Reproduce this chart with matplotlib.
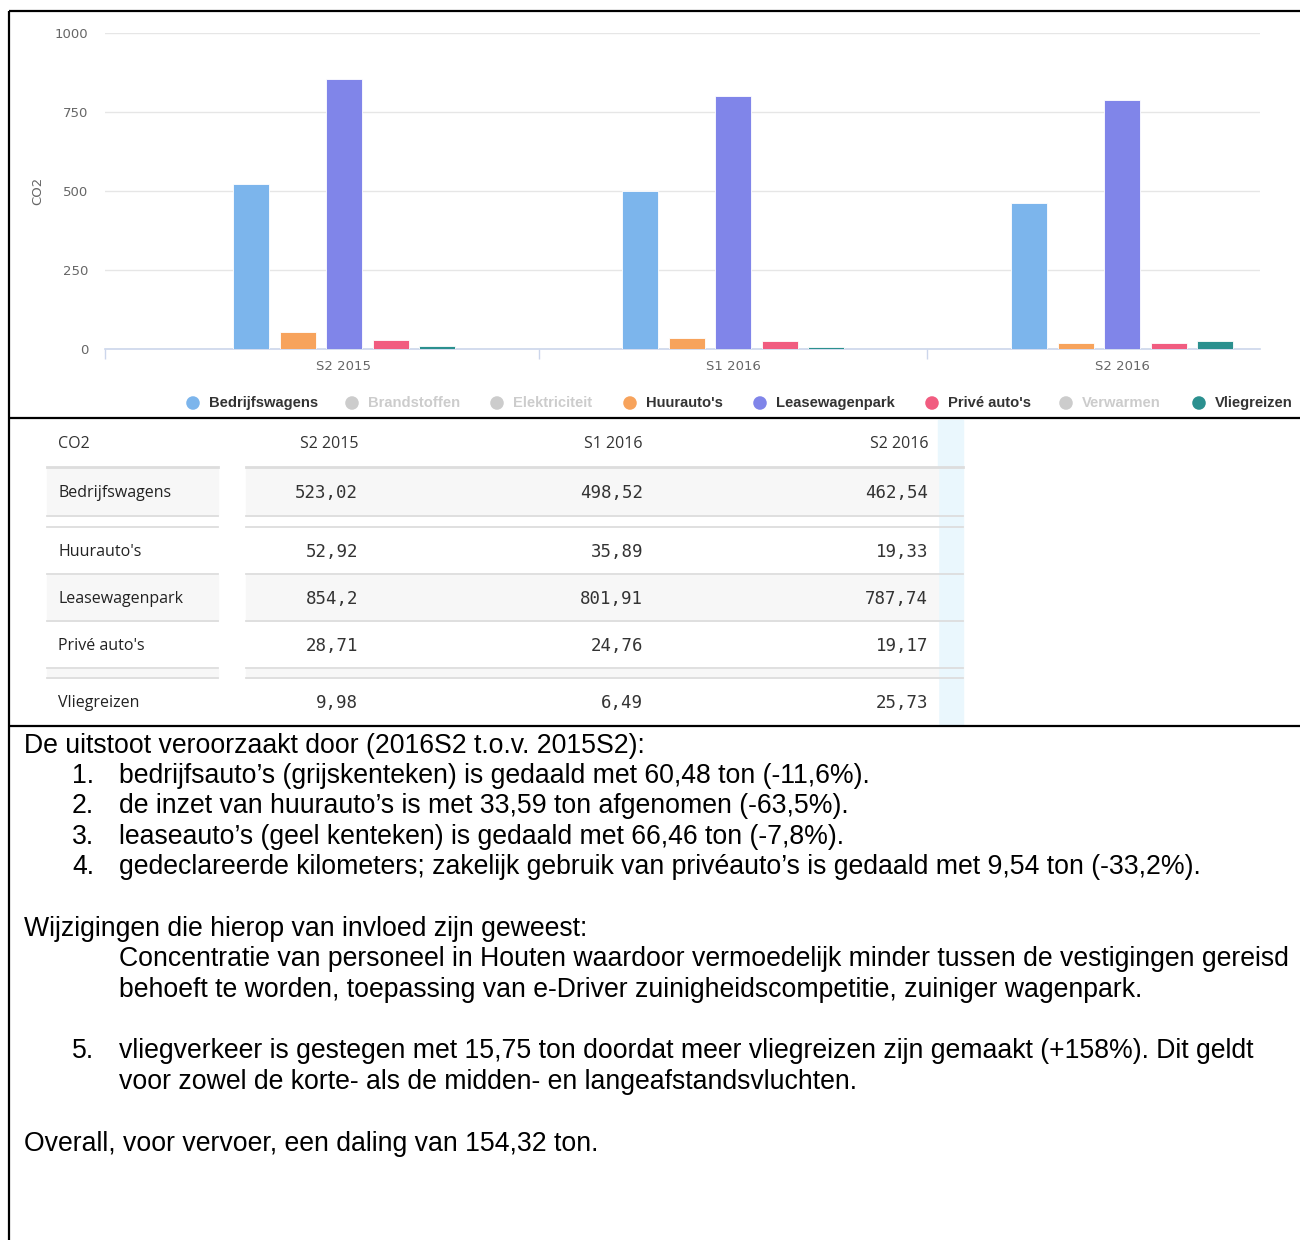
import matplotlib
matplotlib.use("Agg")
import matplotlib.pyplot as plt
from matplotlib.patches import Rectangle

# CO2-uitstoot per halfjaar (ton)
periods = ["S2 2015", "S1 2016", "S2 2016"]
legend_names = ["Bedrijfswagens", "Brandstoffen", "Elektriciteit", "Huurauto's",
                "Leasewagenpark", "Privé auto's", "Verwarmen", "Vliegreizen"]
legend_visible = [True, False, False, True, True, True, False, True]
legend_colors = ["#7cb5ec", "#cccccc", "#cccccc", "#f7a35c",
                 "#8085e9", "#f15c80", "#cccccc", "#2b908f"]

bedrijfswagens = [523.02, 498.52, 462.54]
huurautos = [52.92, 35.89, 19.33]
leasewagenpark = [854.2, 801.91, 787.74]
prive_autos = [28.71, 24.76, 19.17]
vliegreizen = [9.98, 6.49, 25.73]

series_names = ["Bedrijfswagens", "Huurauto's", "Leasewagenpark", "Privé auto's", "Vliegreizen"]
series_values = [bedrijfswagens, huurautos, leasewagenpark, prive_autos, vliegreizen]
series_colors = ["#7cb5ec", "#f7a35c", "#8085e9", "#f15c80", "#2b908f"]

y_ticks = [0, 250, 500, 750, 1000]

intro = "De uitstoot veroorzaakt door (2016S2 t.o.v. 2015S2):"
points = [
    ("1.", "bedrijfsauto’s (grijskenteken) is gedaald met 60,48 ton (-11,6%)."),
    ("2.", "de inzet van huurauto’s is met 33,59 ton afgenomen (-63,5%)."),
    ("3.", "leaseauto’s (geel kenteken) is gedaald met 66,46 ton (-7,8%)."),
    ("4.", "gedeclareerde kilometers; zakelijk gebruik van privéauto’s is gedaald met 9,54 ton (-33,2%)."),
]
changes_head = "Wijzigingen die hierop van invloed zijn geweest:"
changes = [
    "Concentratie van personeel in Houten waardoor vermoedelijk minder tussen de vestigingen gereisd",
    "behoeft te worden, toepassing van e-Driver zuinigheidscompetitie, zuiniger wagenpark.",
]
point5 = ("5.", ["vliegverkeer is gestegen met 15,75 ton doordat meer vliegreizen zijn gemaakt (+158%). Dit geldt",
                 "voor zowel de korte- als de midden- en langeafstandsvluchten."])
overall = "Overall, voor vervoer, een daling van 154,32 ton."

W, H = 1300, 1240
fig = plt.figure(figsize=(W / 100, H / 100), dpi=100)
fig.patch.set_facecolor("white")


def fig_rect(x0, y0, x1, y1):
    return [x0 / W, 1 - y1 / H, (x1 - x0) / W, (y1 - y0) / H]


# --- staafdiagram ---
ax = fig.add_axes(fig_rect(105, 33, 1260, 349))
centers = [344, 733, 1122]
unit = 389.0
ax.set_xlim((105 - centers[0]) / unit, (1260 - centers[0]) / unit)
ax.set_ylim(0, 1000)

step = 46.5 / unit
width = 36 / unit
for i, (vals, col) in enumerate(zip(series_values, series_colors)):
    xs = [k + (i - 2) * step for k in range(len(periods))]
    ax.bar(xs, vals, width=width, color=col, edgecolor="white", linewidth=0.6, zorder=3)

ax.set_yticks(y_ticks)
ax.set_yticklabels([str(v) for v in y_ticks])
ax.yaxis.grid(True, color="#e6e6e6", linewidth=1.0, zorder=0)
ax.tick_params(axis="y", length=0, pad=12, labelsize=9.5, labelcolor="#666666")
ax.set_xticks(range(len(periods)))
ax.set_xticklabels(periods)
ax.set_xticks([ax.get_xlim()[0], 0.5, 1.5], minor=True)
ax.tick_params(axis="x", which="major", length=0, pad=8, labelsize=9.5, labelcolor="#666666")
ax.tick_params(axis="x", which="minor", length=7.5, width=1, color="#ccd6eb")
for s in ["top", "right", "left"]:
    ax.spines[s].set_visible(False)
ax.spines["bottom"].set_color("#ccd6eb")
ax.spines["bottom"].set_linewidth(1.2)
ax.set_ylabel("CO2", color="#666666", fontsize=9.5)
ax.yaxis.set_label_coords((44 - 105) / 1155, 0.5)

# --- overlay in pixelcoordinaten voor legenda, tabel en tekst ---
ov = fig.add_axes([0, 0, 1, 1])
ov.set_xlim(0, W)
ov.set_ylim(H, 0)
ov.axis("off")
ov.patch.set_visible(False)

legend_x = [193, 352, 497, 630, 760, 932, 1066, 1199]
for x, name, vis, col in zip(legend_x, legend_names, legend_visible, legend_colors):
    ov.scatter([x], [403], s=95, color=col, edgecolors="none")
    ov.text(x + 16, 403, name, ha="left", va="center", fontsize=10.6, fontweight="bold",
            family=["Liberation Sans", "DejaVu Sans"],
            color="#333333" if vis else "#cccccc")

# tabel
table_font = ["Open Sans", "DejaVu Sans"]
mono_font = ["DejaVu Sans Mono"]
col_right = [358, 643, 928]
ov.add_patch(Rectangle((938, 420), 25, 305, color="#eaf7fd", zorder=1))

ov.text(58, 444, "CO2", ha="left", va="center", fontsize=11.5, family=table_font, color="#333333")
for x, p in zip(col_right, periods):
    ov.text(x, 444, p, ha="right", va="center", fontsize=11.5, family=table_font, color="#333333")

# rij-indeling: (boven, onder, achtergrond, tekst)
row_layout = [(468, 515, "#f7f7f7", True), (517, 526, "#ffffff", False),
              (528, 573, "#ffffff", True), (575, 620, "#f7f7f7", True),
              (622, 667, "#ffffff", True), (669, 677, "#f7f7f7", False),
              (679, 724, "#ffffff", True)]
line_y = [467, 516, 527, 574, 621, 668, 678]

for top, bot, bg, _ in row_layout:
    ov.add_patch(Rectangle((47, top), 171, bot - top + 1, color=bg, zorder=1))
    ov.add_patch(Rectangle((246, top), 692, bot - top + 1, color=bg, zorder=1))
for k, y in enumerate(line_y):
    lw = 2.0 if k == 0 else 1.3
    ov.plot([47, 218], [y, y], color="#dddddd", lw=lw, zorder=2)
    ov.plot([246, 963], [y, y], color="#dddddd", lw=lw, zorder=2)

data_rows = [r for r in row_layout if r[3]]
for (top, bot, _, _), name, vals in zip(data_rows, series_names, series_values):
    yc = (top + bot) / 2 + 1.5
    ov.text(58, yc, name, ha="left", va="center", fontsize=11.5, family=table_font,
            color="#222222", zorder=3)
    for x, v in zip(col_right, vals):
        label = f"{v:g}".replace(".", ",")
        ov.text(x, yc, label, ha="right", va="center", fontsize=12.5, family=mono_font,
                color="#333333", zorder=3)

# kaders
frame = dict(color="black", lw=1.6, zorder=5, solid_capstyle="butt")
ov.plot([9, 9], [11, H], **frame)
ov.plot([9, W], [11, 11], **frame)
ov.plot([9, W], [418, 418], **frame)
ov.plot([9, W], [725.5, 725.5], **frame)

# toelichting
txt = dict(fontsize=19.2, family=["Liberation Sans", "DejaVu Sans"], color="black", va="center", ha="left")
ov.text(24, 746, intro, **txt)
for (num, line), y in zip(points, [776, 806, 837, 867]):
    ov.text(72, y, num, **txt)
    ov.text(119, y, line, **txt)
ov.text(24, 929, changes_head, **txt)
for line, y in zip(changes, [959, 990]):
    ov.text(119, y, line, **txt)
ov.text(72, 1051, point5[0], **txt)
for line, y in zip(point5[1], [1051, 1082]):
    ov.text(119, y, line, **txt)
ov.text(24, 1144, overall, **txt)

fig.savefig("out.png", dpi=100, facecolor="white")
